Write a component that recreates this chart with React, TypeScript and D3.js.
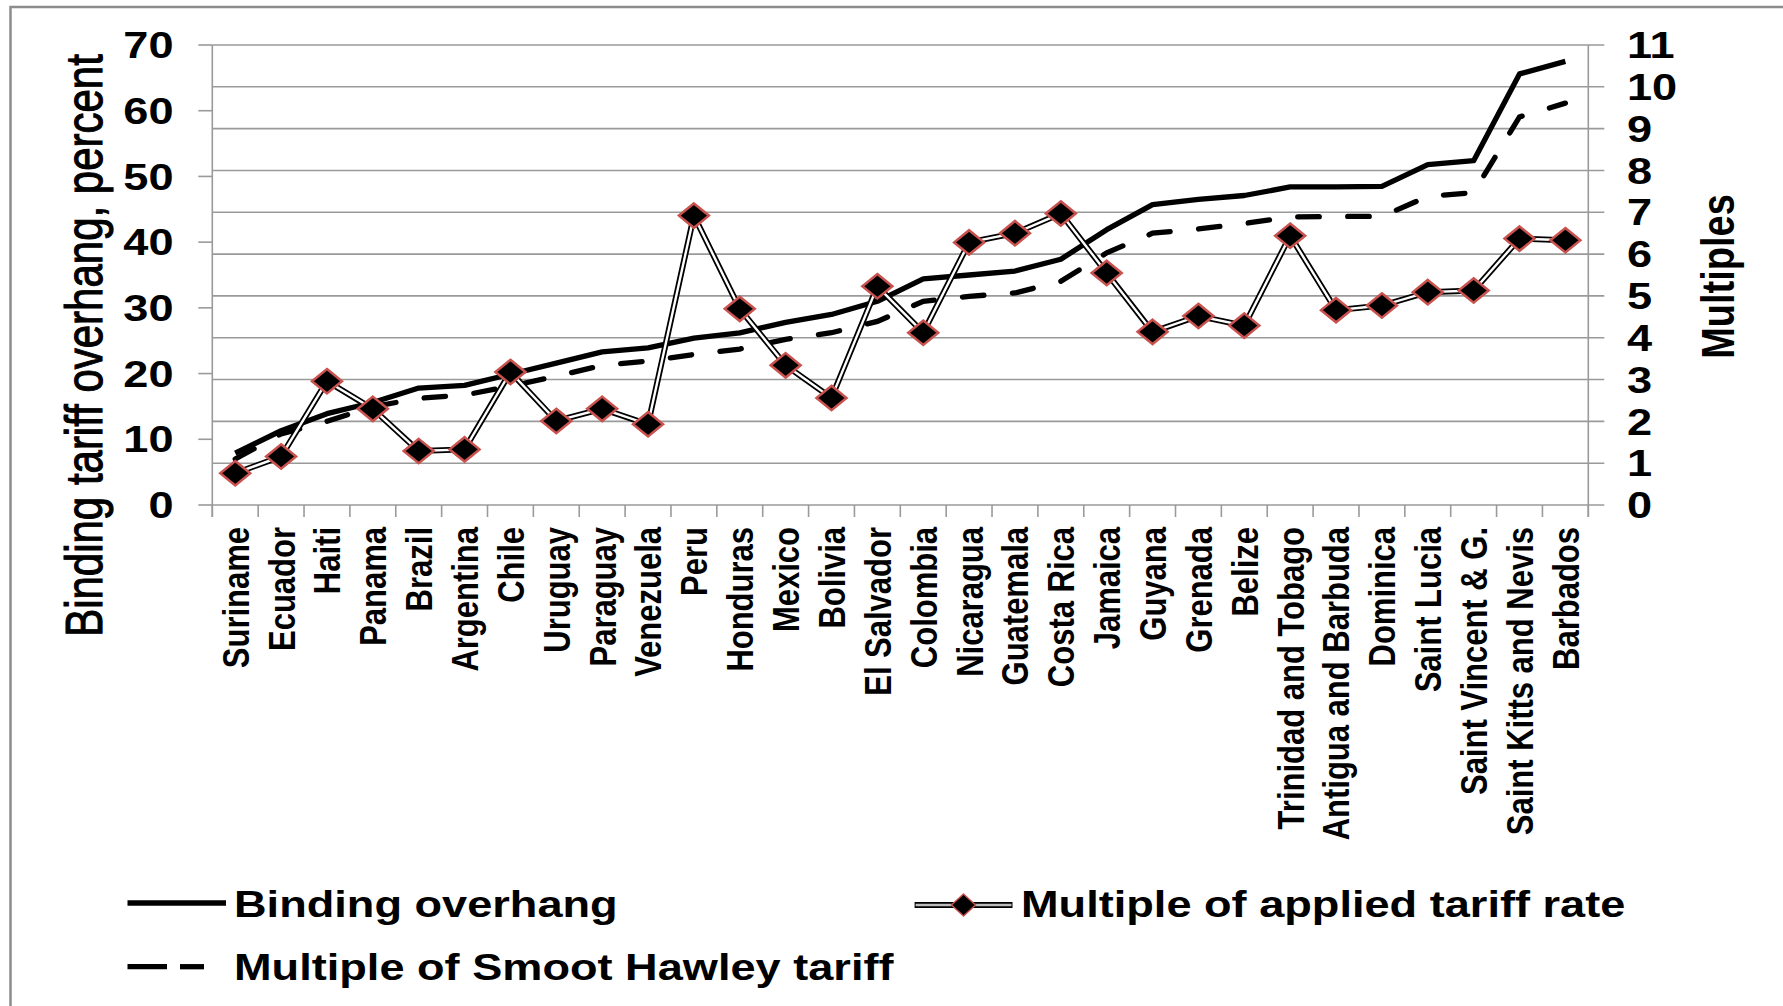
import React from "react";
import * as d3 from "d3";

// Countries, ordered by binding overhang
const countries = [
  "Suriname", "Ecuador", "Haiti", "Panama", "Brazil", "Argentina", "Chile",
  "Uruguay", "Paraguay", "Venezuela", "Peru", "Honduras", "Mexico", "Bolivia",
  "El Salvador", "Colombia", "Nicaragua", "Guatemala", "Costa Rica", "Jamaica",
  "Guyana", "Grenada", "Belize", "Trinidad and Tobago", "Antigua and Barbuda",
  "Dominica", "Saint Lucia", "Saint Vincent & G.", "Saint Kitts and Nevis", "Barbados",
];

// Binding overhang, percent (left axis)
const bindingOverhang = [
  7.9, 11.3, 13.9, 15.6, 17.8, 18.2, 19.9, 21.6, 23.3, 23.9, 25.4, 26.2, 27.8, 29.0,
  31.0, 34.4, 35.0, 35.6, 37.4, 41.9, 45.7, 46.5, 47.1, 48.4, 48.4, 48.5, 51.8, 52.4,
  65.6, 67.5,
];

// Multiple of applied tariff rate (right axis)
const appliedMultiple = [
  0.76, 1.16, 2.96, 2.3, 1.29, 1.33, 3.18, 2.01, 2.3, 1.93, 6.92, 4.69, 3.34, 2.56,
  5.23, 4.12, 6.28, 6.5, 6.97, 5.55, 4.14, 4.52, 4.29, 6.44, 4.66, 4.77, 5.09, 5.13,
  6.37, 6.33,
];

// Multiple of Smoot Hawley tariff (right axis)
const smootHawleyMultiple = [
  1.1, 1.7, 2.0, 2.35, 2.55, 2.63, 2.84, 3.08, 3.34, 3.44, 3.6, 3.73, 3.96, 4.12,
  4.39, 4.87, 4.99, 5.07, 5.35, 6.03, 6.5, 6.6, 6.73, 6.89, 6.9, 6.9, 7.38, 7.47,
  9.28, 9.61,
];

const leftTicks = [0, 10, 20, 30, 40, 50, 60, 70];
const rightTicks = [0, 1, 2, 3, 4, 5, 6, 7, 8, 9, 10, 11];

const legendItems = {
  binding: "Binding overhang",
  applied: "Multiple of applied tariff rate",
  smoot: "Multiple of Smoot Hawley tariff",
};

const W = 1783;
const H = 1006;
const SX = 1.22; // horizontal glyph stretch
const FONT = "'Liberation Sans', Arial, Helvetica, sans-serif";
const GRID = "#9a9a9a";
const RED = "#c9524e";

const plot = { left: 212.3, right: 1588.3, top: 45, bottom: 505 };

function HText({ x, y, size, weight = "bold", anchor = "start", children }: any) {
  return (
    <text
      transform={`translate(${x},${y}) scale(${SX},1)`}
      fontFamily={FONT}
      fontSize={size}
      fontWeight={weight}
      textAnchor={anchor}
      fill="#000"
    >
      {children}
    </text>
  );
}

function VText({ x, y, size, weight = "bold", anchor = "middle", outline = 0, children }: any) {
  return (
    <text
      transform={`translate(${x},${y}) rotate(-90) scale(1,${SX})`}
      fontFamily={FONT}
      fontSize={size}
      fontWeight={weight}
      textAnchor={anchor}
      fill="#000"
      stroke={outline ? "#000" : "none"}
      strokeWidth={outline}
    >
      {children}
    </text>
  );
}

const diamond = (w: number, h: number) => `M0,${-h}L${w},0L0,${h}L${-w},0Z`;

export default function App() {
  const x = d3.scaleBand<string>().domain(countries).range([plot.left, plot.right]).padding(0);
  const bw = x.bandwidth();
  const cx = (i: number) => (x(countries[i]) as number) + bw / 2;
  const yL = d3.scaleLinear().domain([0, 70]).range([plot.bottom, plot.top]);
  const yR = d3.scaleLinear().domain([0, 11]).range([plot.bottom, plot.top]);

  const lineL = d3.line<number>().x((_, i) => cx(i)).y((d) => yL(d));
  const lineR = d3.line<number>().x((_, i) => cx(i)).y((d) => yR(d));

  const boundaries = d3.range(countries.length + 1).map((i) => plot.left + i * bw);

  return (
    <svg
      width={W}
      height={H}
      style={{ position: "absolute", left: 0, top: 0, background: "#fff" }}
    >
      <rect x={0} y={0} width={W} height={H} fill="#fff" />
      {/* chart frame */}
      <rect x={10.5} y={7} width={3000} height={3000} fill="none" stroke="#8c8c8c" strokeWidth={2.5} />

      {/* gridlines on the multiples scale */}
      {rightTicks.map((t) => (
        <line key={`g${t}`} x1={plot.left} x2={plot.right + 16} y1={yR(t)} y2={yR(t)} stroke={GRID} strokeWidth={1.6} />
      ))}

      {/* left axis */}
      <line x1={plot.left} x2={plot.left} y1={plot.top} y2={plot.bottom + 12} stroke={GRID} strokeWidth={1.6} />
      {leftTicks.map((t) => (
        <g key={`l${t}`}>
          <line x1={plot.left - 14} x2={plot.left} y1={yL(t)} y2={yL(t)} stroke={GRID} strokeWidth={1.6} />
          <HText x={173.5} y={yL(t) + 13.2} size={37} anchor="end">{t}</HText>
        </g>
      ))}

      {/* right axis */}
      <line x1={plot.right} x2={plot.right} y1={plot.top} y2={plot.bottom + 12} stroke={GRID} strokeWidth={1.6} />
      {rightTicks.map((t) => (
        <HText key={`r${t}`} x={1627} y={yR(t) + 13.2} size={37} anchor="start">{t}</HText>
      ))}

      {/* category ticks and labels */}
      {boundaries.map((b, i) => (
        <line key={`c${i}`} x1={b} x2={b} y1={plot.bottom} y2={plot.bottom + 12} stroke={GRID} strokeWidth={1.6} />
      ))}
      {countries.map((c, i) => (
        <VText key={c} x={cx(i) + 13.4} y={527} size={31} anchor="end">{c}</VText>
      ))}

      {/* axis titles */}
      <VText x={101.7} y={345.5} size={42} weight="normal" outline={0.9}>Binding tariff overhang, percent</VText>
      <VText x={1734} y={276.5} size={38}>Multiples</VText>

      {/* series */}
      <path d={lineL(bindingOverhang) || ""} fill="none" stroke="#000" strokeWidth={5.3} strokeLinejoin="round" />
      <path
        d={lineR(smootHawleyMultiple) || ""}
        fill="none"
        stroke="#000"
        strokeWidth={5.3}
        strokeDasharray="21.5 28.5"
        strokeLinecap="round"
      />
      <path d={lineR(appliedMultiple) || ""} fill="none" stroke="#000" strokeWidth={6} strokeLinejoin="miter" />
      <path d={lineR(appliedMultiple) || ""} fill="none" stroke="#fff" strokeWidth={2.4} strokeLinejoin="miter" />
      {appliedMultiple.map((v, i) => (
        <path
          key={`m${i}`}
          d={diamond(15, 12.2)}
          transform={`translate(${cx(i)},${yR(v)})`}
          fill="#000"
          stroke={RED}
          strokeWidth={2.5}
        />
      ))}

      {/* legend */}
      <line x1={127.5} x2={226} y1={903} y2={903} stroke="#000" strokeWidth={5.3} />
      <HText x={234} y={916.7} size={37}>{legendItems.binding}</HText>

      <line x1={127.5} x2={167} y1={966.7} y2={966.7} stroke="#000" strokeWidth={5.3} />
      <line x1={180} x2={204} y1={966.7} y2={966.7} stroke="#000" strokeWidth={5.3} />
      <HText x={234} y={980} size={37}>{legendItems.smoot}</HText>

      <line x1={914.6} x2={1012.5} y1={905} y2={905} stroke="#000" strokeWidth={5.8} />
      <line x1={915.6} x2={1011.5} y1={905} y2={905} stroke="#bdbdbd" strokeWidth={2.4} />
      <path d={diamond(12, 11)} transform="translate(963.5,905)" fill="#000" stroke={RED} strokeWidth={1.4} />
      <HText x={1021} y={916.7} size={37}>{legendItems.applied}</HText>
    </svg>
  );
}
